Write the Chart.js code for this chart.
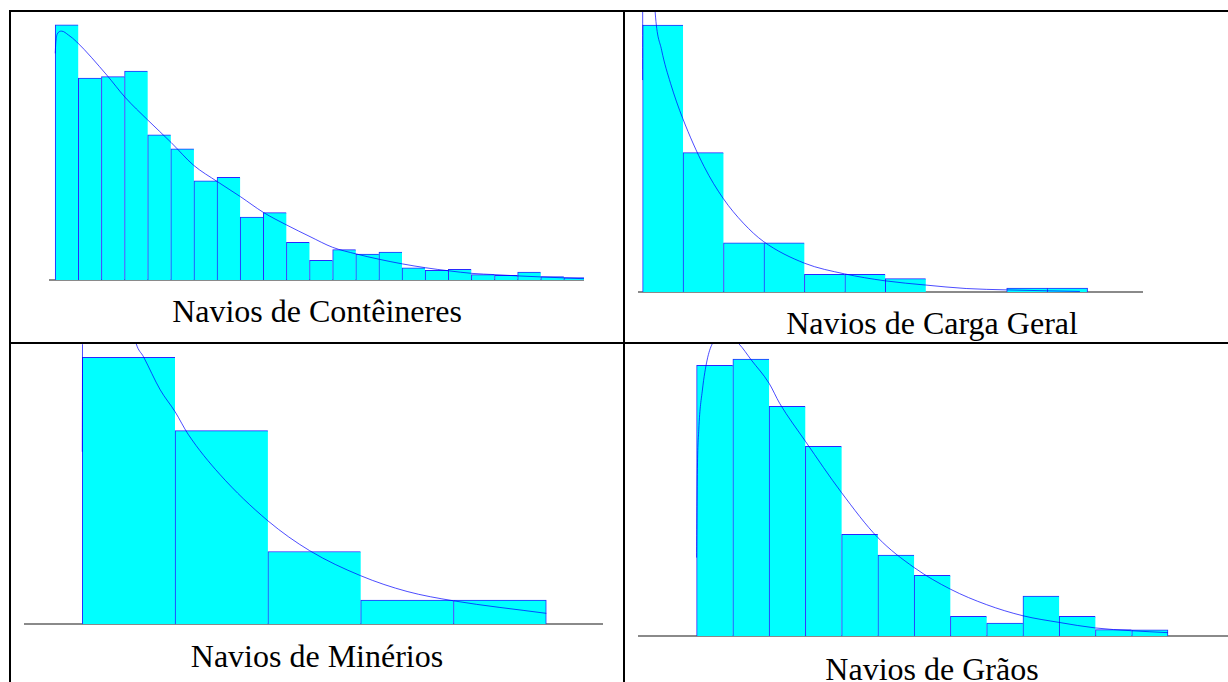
<!DOCTYPE html>
<html lang="pt">
<head>
    <meta charset="UTF-8">
    <title>Histogramas dos navios</title>
    <script src="https://cdn.jsdelivr.net/npm/chart.js@4.4.1/dist/chart.umd.min.js"></script>
    <style>
        body { margin: 0; background: #fff; width: 1228px; height: 682px; overflow: hidden; position: relative; }
        .rule { position: absolute; background: #000; }
        .chart { position: absolute; }
        .caption {
            position: absolute; text-align: center; white-space: nowrap; color: #000;
            font-family: "Liberation Serif", "Times New Roman", serif; font-size: 32px; line-height: 36px;
        }
    </style>
</head>
<body>

<div class="rule" style="left:9px;top:10px;width:1219px;height:2px"></div>
<div class="rule" style="left:9px;top:342px;width:1219px;height:2px"></div>
<div class="rule" style="left:9px;top:10px;width:2px;height:672px"></div>
<div class="rule" style="left:623px;top:10px;width:2px;height:672px"></div>

<canvas id="chart-conteineres" class="chart" width="535" height="270" style="left:49px;top:12px"></canvas>
<canvas id="chart-carga" class="chart" width="505" height="282" style="left:638px;top:12px"></canvas>
<canvas id="chart-minerios" class="chart" width="579" height="282" style="left:24px;top:344px"></canvas>
<canvas id="chart-graos" class="chart" width="590" height="294" style="left:638px;top:344px"></canvas>

<div class="caption" style="left:11px;width:612px;top:293px">Navios de Contêineres</div>
<div class="caption" style="left:625px;width:614px;top:305px">Navios de Carga Geral</div>
<div class="caption" style="left:11px;width:612px;top:638px">Navios de Minérios</div>
<div class="caption" style="left:625px;width:614px;top:651px">Navios de Grãos</div>

<script>
    // bar heights (first/highest bar ~ 100) and fitted curve, x in bin units
    const binsConteineres = [100, 79.1, 79.7, 81.9, 56.9, 51.4, 38.9, 40.2, 24.7, 26.4, 14.8, 7.7, 11.9, 10.2, 10.9, 4.8, 3.8, 4.2, 2.1, 1.8, 3.1, 1.3, 0.9];
    const curveXConteineres = [0, 0.03, 0.09, 0.28, 0.57, 0.93, 2.23, 3.02, 4.0, 5.01, 5.98, 7.02, 8.02, 9.0, 10.02, 11.02, 12.0, 13.02, 14.02, 15.02, 16.02, 17.02, 18.02, 19.02, 20.02, 21.02, 22.87];
    const curveYConteineres = [88.8, 93.3, 96.4, 97.5, 96.0, 93.3, 80.3, 71.6, 62.7, 53.9, 45.0, 38.5, 32.6, 26.5, 21.5, 17.0, 12.8, 10.2, 8.1, 6.3, 4.8, 3.6, 2.6, 2.1, 1.6, 1.2, 0.5];

    const binsCarga = [100, 52.2, 18.4, 18.4, 6.6, 6.6, 5.0, 0, 0, 1.5, 1.5];
    const curveXCarga = [0, 0.01, 0.31, 0.47, 0.69, 0.99, 1.52, 1.99, 2.49, 2.99, 4.0, 4.99, 5.99, 7.0, 8.0, 8.99, 9.99, 10.81];
    const curveYCarga = [79.4, 200, 104.9, 90.6, 78.2, 65.1, 47.0, 35.1, 25.8, 18.9, 10.8, 6.8, 4.2, 2.6, 1.3, 0.8, 0.45, 0.2];

    const binsMinerios = [100, 72.5, 27.2, 9.0, 9.0];
    const curveXMinerios = [0, 0.01, 0.58, 0.66, 0.84, 1.0, 1.14, 1.48, 2.0, 2.45, 3.0, 3.5, 4.0, 5.0];
    const curveYMinerios = [64.6, 200, 105.2, 100.2, 87.8, 79.6, 71.2, 56.2, 38.7, 27.5, 18.1, 12.2, 8.7, 4.0];

    const binsGraos = [97.7, 100, 82.9, 68.5, 36.7, 29.2, 21.9, 7.1, 4.7, 14.4, 7.1, 2.3, 2.2];
    const curveXGraos = [0, 0.02, 0.06, 0.16, 0.29, 0.43, 0.78, 1.17, 1.51, 2.0, 2.29, 3.0, 4.0, 5.0, 6.0, 7.0, 8.0, 9.0, 10.0, 11.0, 12.0, 13.0];
    const curveYGraos = [28.3, 58.3, 74.4, 88.8, 99.6, 105.4, 109, 105.4, 99.6, 91.2, 84.0, 70.3, 51.7, 35.5, 24.7, 16.9, 11.3, 7.3, 4.9, 2.9, 1.9, 1.2];

    function drawHistogram(id, bins, curveX, curveY, xMin, xMax, yMax) {
        const bars = bins.map((v, i) => ({x: i + 0.5, y: v}));
        const curve = curveX.map((x, i) => ({x: x, y: curveY[i]}));
        const last = bins.length - 1;

        new Chart(id, {
            type: 'bar',
            data: {
                datasets: [
                    {
                        type: 'line',
                        data: curve,
                        borderColor: 'rgba(0,0,255,0.7)',
                        borderWidth: 1,
                        pointRadius: 0,
                        fill: false,
                        cubicInterpolationMode: 'monotone',
                        order: 0
                    },
                    {
                        type: 'bar',
                        data: bars,
                        backgroundColor: '#00ffff',
                        borderColor: '#2828ff',
                        borderWidth: ctx => ({top: 1, left: 1, right: ctx.dataIndex === last ? 1 : 0, bottom: 0}),
                        borderSkipped: 'start',
                        barPercentage: 1,
                        categoryPercentage: 1,
                        clip: 0,
                        order: 1
                    }
                ]
            },
            options: {
                responsive: false,
                animation: false,
                layout: {padding: {left: 0, right: 0, top: 0, bottom: 2}},
                plugins: {legend: {display: false}, tooltip: {enabled: false}},
                scales: {
                    x: {
                        type: 'linear',
                        min: xMin,
                        max: xMax,
                        offset: false,
                        ticks: {display: false, stepSize: 1, includeBounds: false},
                        grid: {display: false, drawTicks: false, tickLength: 0, offset: false},
                        border: {display: true, color: '#8a8a8a', width: 2}
                    },
                    y: {display: false, min: 0, max: yMax}
                }
            }
        });
    }

    drawHistogram('chart-conteineres', binsConteineres, curveXConteineres, curveYConteineres, -0.268, 22.87, 105);
    drawHistogram('chart-carga', binsCarga, curveXCarga, curveYCarga, -0.114, 12.37, 104.9);
    drawHistogram('chart-minerios', binsMinerios, curveXMinerios, curveYMinerios, -0.628, 5.611, 105);
    drawHistogram('chart-graos', binsGraos, curveXGraos, curveYGraos, -1.616, 14.655, 105.4);
</script>

</body>
</html>
